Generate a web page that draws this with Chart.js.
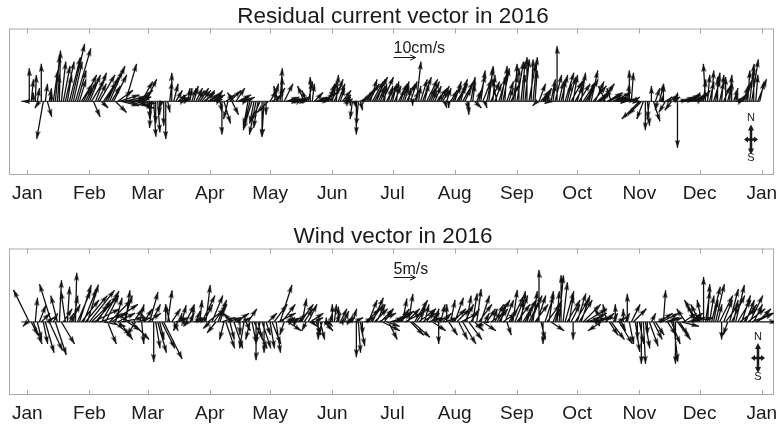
<!DOCTYPE html>
<html lang="en">
<head>
<meta charset="UTF-8">
<title>Residual current and wind vectors 2016</title>
<script src="https://cdn.jsdelivr.net/npm/chart.js@4.4.1/dist/chart.umd.min.js"></script>
<style>
  body { margin: 0; background: #fff; }
  canvas { display: block; }
</style>
</head>
<body>
<canvas id="current" width="779" height="213"></canvas>
<canvas id="wind" width="779" height="213"></canvas>
<script>
// day-of-year of each month start (2016 is a leap year) and the labels under them
const monthDays = [0, 31, 60, 91, 121, 152, 182, 213, 244, 274, 305, 335, 366];
const monthLabels = ['Jan', 'Feb', 'Mar', 'Apr', 'May', 'Jun', 'Jul', 'Aug', 'Sep', 'Oct', 'Nov', 'Dec', 'Jan'];

// daily residual current, cm/s (east, north), one row per month
const curU = [
  -2.3, 0, 1, 0, 0.5, 1, -2, 0, -3, 1, 2, 1, 0, 2, 2, 1, 0.5, 2, 3, 4, 2, 5, 6, 4, 7, 4, 3, 5, 6, 3, 4,
  5, 6, 3, 5, 4, 7, 3, 6, 8, 5, 7, 4, 6, 5, 7, 9, 8, 10, 5, 12, 9, 11, 8, 6, 4, 6, 5, 3, 5,
  1, 0, -1, 1, 0, 1, 0, -1, 0, 0, 1, 1, 0, 2, 3, 4, 5, 2, 3, -1, 1, 1, 2, 2, 3, 3, 4, 4, 5, 4, 5,
  5, 6, 4, 3, 2, 1, 0, 3, 4, -2, 5, 3, -3, 4, 6, 5, 3, 2, 4, -2, -3, -4, -2, -3, -2, -4, 0, -1, 0, -5,
  3, 5, 2, 4, -2, 1, 0, 4, 6, 5, 4, 6, 3, 5, 2, 4, 3, -3, -2, 2, 0, 1, 4, 5, 6, 4, 3, 5, 4, 3, 5,
  2, 4, 1, 3, 2, 4, 3, 2, 1, 0, -1, 1, 0, -1, 1, 2, 3, 4, 5, 3, 5, 6, 4, 3, 2, 5, 1, 3, 2, 3,
  2, 3, 1, 4, 2, 3, 2, 4, 1, 3, 0, 2, 2, 1, 3, 4, 2, 5, 3, 4, 2, 3, 5, 2, 4, 3, 1, 2, 0, 3, 4,
  3, 5, 4, 2, 5, 3, 1, 0, 2, 1, 3, 2, 3, 2, 4, 1, 3, 2, 4, 1, 3, -2, 4, 2, 3, 1, 3, 2, 4, 2, 1,
  3, 0, 2, 1, 2, 0, 3, 1, 2, 1, -2, 3, 4, 2, 3, 1, -2, 2, 1, 3, 0, 2, 3, 1, 4, 2, 3, 5, 2, 4,
  3, 5, 2, 6, 4, 5, 2, 3, 6, 4, 7, 5, 6, 3, -3, 7, 6, -2, 8, 5, 6, 4, 3, 2, 5, 1, 0, 1, 3, 2, 1,
  -8, -6, -3, 0, 1, -1, 0, 3, 2, -1, 2, 1, 0, -3, 2, 4, -3, 3, 1, 0, 4, 6, 5, 7, 5, 4, 6, 3, 5, 2,
  3, 4, 1, -1, 1, 2, 1, 3, 2, 0, 2, 1, 3, 0, 2, 1, 0, 2, 1, 3, 2, 3, 2, 3, 1, 2, 3, 0, 1, 4, 2
];
const curV = [
  0, 15, 10, 4, 12, 6, -3, 17, -17, 8, -7, 6, 4, 14, 21, 12, 23, 18, 16, 18, 12, 20, 26, 18, 24, 14, 10, 8, 12, 6, 9,
  12, 10, -7, 13, 8, 12, -3, 9, 14, 11, 16, 7, 12, -5, 5, 3, -2, 2, 17, -3, 1, -1, 2, -2, 3, 5, 9, 4, 10,
  -4, -8, -12, -16, -10, -14, -6, -3, -11, -17, -5, 9, 13, 8, 5, 3, 2, 1, 1, 3, 6, 6, 6, 7, 6, 5, 6, 5, 4, 5, 3,
  4, 3, 2, 5, 1, -5, -15, -10, 3, -8, 5, -6, 4, 6, 3, 1, 2, 1, 2, -11, -12, -13, -10, -15, -12, -9, -16, -16, -6, -5,
  5, 3, 8, 6, 7, 15, 11, 8, 2, 1, 0, 1, 1, 0, 1, 2, 1, 7, 5, 9, 11, 8, 4, 2, 1, 1, 2, 4, 6, 8, 7,
  9, 10, 12, 8, 6, 5, 3, 2, 1, -2, -8, -3, -15, -11, -4, 2, 4, 6, 8, 10, 9, 11, 10, 7, 5, 11, 8, 6, 7, 8,
  8, 7, 9, 8, 6, 9, 7, 8, 6, 9, -2, 5, 18, 7, 10, 11, 8, 10, 6, 9, 5, 7, 6, 4, 7, 5, -3, 6, -3, 5, 7,
  9, 8, 10, 7, 9, 6, -4, -6, 11, 8, -3, 5, 12, 14, 10, -3, 15, 16, 9, 12, 8, 10, 13, 11, 15, 16, 9, 6, 8, 12, 17,
  18, 15, 18, 12, 19, 20, 17, 19, 20, 14, -2, 8, 5, 3, 6, 4, -1, 10, 8, 12, 25, 9, 12, 10, 13, 8, 11, 9, 12, 7,
  10, 8, 13, 9, 6, 10, 8, 14, 7, 9, 6, 4, 8, 5, 7, 4, 3, 6, 4, 2, 1, 2, 1, 0, 1, 8, 14, 13, 2, 0, -1,
  -8, -6, -8, -13, -11, -8, 7, -9, 6, -4, 8, 3, 8, -5, 2, 3, -4, 2, 4, -21, 1, 2, 1, 3, 2, 3, 2, 4, 3, 2,
  4, 5, 10, 17, 12, 9, 14, 10, 13, 11, 9, 12, 7, 11, 8, 12, 9, 6, 4, 2, 1, 4, 7, 10, 14, 17, 19, 15, 12, 10, 9
];

// daily wind, m/s (east, north)
const windU = [
  -1, -3.6, 1.5, 2, 0.5, 1, 1.5, 2, 1, 2, 1.5, 3, -2.7, 1, 2.5, -1.5, 0.5, 3, 2, -1, 0.5, 1, 2, 1, 0.3, 3, 2.7, 4, 3, 5, 2.5,
  5.7, 4, 6, 5, 3, 6.5, 4, 5, 3, 2, 5, 6, 4, 1.5, 4, 3, 5, 2, 1, 3, -3, 4, 2, -2, 3, 1, 0.5, 2, -1,
  3, 1.9, 2, 0, 1, 2, 1, 3, 4.2, 0, 1, -1, 2, 1, 3, -1, 0.5, 1, 0, 2, -1, 1, 0.5, 2, 1, 2, 0.5, 3, 2, 1, 4,
  -1.5, 2.5, 3, -2, 2, 1, 3, -1, 2, 3, 1, -2, 2, 3, 1, 0, 2, -1, 1, 2, -1, 1, 3, 0, 1, -1, 2, 0, 1, 2,
  1, 2, 3, 1, 4, 2.7, 3, -1, 2, 3, 1, 2, 0, -1, 2, 3, 1, 2, -1, 2, 3, 1, 2, 1, 0, 1, -1, 2, 0, 1, 0.5,
  0, 0.5, 1, 0, 1.5, 0.5, 1, 2, 1, 0.5, 1, 2, 0, 0.5, 1, 0, 2, 3, 2, 3, 2.5, 3, 2, 4, 3, 4, 2, 3, 2, 3,
  4, 3, 4, 3, 2, 1, 4, 3, 1, 3, 4, 3, 2, 4, 1, 3, 1, 2, 3, 2, 3, 1, 2, 0, 1, 2, 3, 0, 2, 1, 3,
  2, 3, 2, 4, 3, 2, 1, 3, 2, 1, 2, 1, 3, 2, 3, 1, 2, -3, 3, 1, 2, 3, 2, 1, 3, 2, 1, 2, 3, 1, 2,
  3, 2, 1, 3, 2, 1, 3, 2, 1, 3, 2, 0, 1, 0, 2, 3, 1, 3, 2, 1, 0.5, 1, 0, 1, 2, 3, 1, 2, 0, 3,
  2, 3, 2, 4, 5, 3, 4, 5, 2, 3, 1, 0, -3, -2, 2, -1, 2, 3, 1, 0, 2, 3, 1, 0, 1, 0, 1, 2, 3, 1, 0,
  1, 0, 0.5, 1, 0, 2, 1, 2, 2, 2, 3, 4, 0.5, 3, 2, 3, 2, 1, 0, 3, 2, 4, 3, -2, 4, 3, 5, 2, -2, -3,
  -2, -1, 0, 1, 0.5, 1, 2, 1, 2, 1, 3, 0, 2, 3, -1, 2, 3, 1, 2, 3, 4, 2, 3, 2, 4, 3, 5, 2, 4, 3, 4
];
const windV = [
  -1, 7.3, -3, -5, 5.5, -4, 3.8, 2, -5, -7, 1, -6.5, 8.6, 2, -7.5, 6, 9.5, -5, 3, 7, 8, 2, 4, 6, 11.2, 7, 8.4, 5, 7.5, 6, 8.5,
  7.2, 4, 3, 6, 5, 2, 7, -1, 6, -5, 5, 4, -3, 5.5, 2, -4, 1, 6, 7.2, -2, 2, -4, 3, -3, 1, 4, -5, 3, 2,
  2, 6.8, 4, -9.1, -6, -7, -4, -6, -8.4, 4, 7.2, 4, 3, -2, 1, -2, 2, 3.8, 1, 4, -1, 2, 3.8, 1, 2.5, 1, 5, 6, 4, 8.4, 3,
  -1.5, 6, 4, -2.5, 5, 3, 1, -4, -6, 1, -4, 2, -6, 2, 1, -3, 1, -6, -2, 3, -4, -5, -6, -8.7, -4, -5, -6, -7, -3, 2,
  -6, -5, 4, -7, 2, 8.4, 4, -3, 1, -2, 0.5, 1, -1, 1, 2, 4, 5.3, 3, -2, 4, 2, -1, 1, -3, -4, -4, -3, -2, 1, -1, 2,
  4, 4, 2, 3.5, 3, 1, 2.5, 1, 0.5, 1.5, 3, 1, -8, -7, -5.5, -3, 1, 3, 5, 4, 5.5, 3, 4, 2, 3, -2, 3, -1, -4, 1,
  2, 1.5, 2.5, 2, 3, 5.3, 2, 3, 6.4, -3, -3.5, 5, 3, 3, 4, 2, 4, 3, 1, 2, -2, 3, 1, -5, 4, 2, 1, 4, -3, 5, 3,
  5.5, 3, -4, 2, -5, 4, 6, -4, 3, 6.5, -2, 7.5, 4, 6, -2, 2, 3, -1, 2, 3, 4, 5, 3, 4, 2, 5, -3, 3, 6, 7.3, 5,
  4, 6, 7, 5, 4, 3, 6, 5, 7, 4, 6, 11.8, -4, -5, 6, 4, 7, -2, 5, 3, 7, 10.6, 10.6, 9, 7, 5, 6, 4, -4, 5,
  6.5, 5, 6, 4, 3, 1, 2, 1, 0.5, 1, 0.5, -1, -2, 3, 2, 4, -3, -4, 2, 4, 1, -5, -2, 3, 2, 6.4, -5, 4, 3, -6.8, -4,
  -5, -9.5, -9.5, -6, -3, -5.5, 2, -4, -3, 1, 2, 2, 7.2, 1, -3, 1, -5, -9, -9.5, -4, -3, -1, 2, 3, 1, 2, 1, 2, 4, 5,
  4, 5, 10.2, 7, 8.6, 6, 8, 5, 8.6, 4, 6, -4, 5, 4, -3, 7.5, 6, 5, 8.4, 5, 3, 6, 4, 5, 3, 6, 2, 4, 2, 3, 0
];

Chart.defaults.font.family = '"Liberation Sans", Arial, sans-serif';
Chart.defaults.color = '#1a1a1a';

// narrow arrowhead sprite, pointing up; Chart.js rotates it per point
const HEAD_W = 5, HEAD_H = 8;
const headSprite = document.createElement('canvas');
headSprite.width = HEAD_W;
headSprite.height = HEAD_H;
(function () {
  const g = headSprite.getContext('2d');
  g.fillStyle = '#111';
  g.beginPath();
  g.moveTo(HEAD_W / 2, 0);
  g.lineTo(HEAD_W, HEAD_H);
  g.lineTo(HEAD_W / 2, HEAD_H - 1.5);
  g.lineTo(0, HEAD_H);
  g.closePath();
  g.fill();
})();

// frame of the axes box and the small inward month ticks
const framePlugin = {
  id: 'frame',
  beforeDatasetsDraw(chart) {
    const { ctx, chartArea: a, scales: { x } } = chart;
    ctx.save();
    ctx.strokeStyle = '#a9a9a9';
    ctx.lineWidth = 1;
    ctx.strokeRect(a.left + 0.5, a.top + 0.5, a.width - 1, a.height - 1);
    ctx.beginPath();
    monthDays.forEach(d => {
      const px = Math.round(x.getPixelForValue(d)) + 0.5;
      ctx.moveTo(px, a.top); ctx.lineTo(px, a.top + 5);
      ctx.moveTo(px, a.bottom); ctx.lineTo(px, a.bottom - 5);
    });
    ctx.stroke();
    ctx.restore();
  }
};

function openArrow(ctx, x1, y1, x2, y2, h) {
  const ang = Math.atan2(y2 - y1, x2 - x1);
  ctx.beginPath();
  ctx.moveTo(x1, y1); ctx.lineTo(x2, y2);
  ctx.moveTo(x2 - h * Math.cos(ang - 0.45), y2 - h * Math.sin(ang - 0.45));
  ctx.lineTo(x2, y2);
  ctx.lineTo(x2 - h * Math.cos(ang + 0.45), y2 - h * Math.sin(ang + 0.45));
  ctx.stroke();
}

function solidHead(ctx, x, y, ang, len, w) {
  ctx.beginPath();
  ctx.moveTo(x, y);
  ctx.lineTo(x - len * Math.cos(ang) + w * Math.sin(ang), y - len * Math.sin(ang) - w * Math.cos(ang));
  ctx.lineTo(x - len * Math.cos(ang) - w * Math.sin(ang), y - len * Math.sin(ang) + w * Math.cos(ang));
  ctx.closePath();
  ctx.fill();
}

// scale arrow with its label, and the N/S compass mark
const notesPlugin = {
  id: 'notes',
  afterDatasetsDraw(chart, args, opts) {
    const { ctx, chartArea: a, scales: { x, y } } = chart;
    const pxUnit = y.getPixelForValue(0) - y.getPixelForValue(1);
    const x0 = x.getPixelForValue(opts.refDay);
    const x1 = x0 + opts.refLen * pxUnit;
    ctx.save();
    ctx.fillStyle = '#1a1a1a';
    ctx.strokeStyle = '#1a1a1a';
    ctx.font = '16px "Liberation Sans", Arial, sans-serif';
    ctx.textAlign = 'left';
    ctx.textBaseline = 'middle';
    ctx.fillText(opts.refLabel, x0, a.top + opts.labelDy);
    ctx.lineWidth = 1;
    openArrow(ctx, x0, a.top + opts.arrowDy, x1, a.top + opts.arrowDy, 6);

    const cx = a.right - opts.compassDx;
    const cy = y.getPixelForValue(0) + opts.compassDy;
    ctx.lineWidth = 2.5;
    ctx.beginPath();
    ctx.moveTo(cx, cy - 12); ctx.lineTo(cx, cy + 12);
    ctx.moveTo(cx - 4, cy); ctx.lineTo(cx + 4, cy);
    ctx.stroke();
    solidHead(ctx, cx, cy - 15, -Math.PI / 2, 6, 3);
    solidHead(ctx, cx, cy + 15, Math.PI / 2, 6, 3);
    solidHead(ctx, cx - 7, cy, Math.PI, 4, 3);
    solidHead(ctx, cx + 7, cy, 0, 4, 3);
    ctx.font = '11px "Liberation Sans", Arial, sans-serif';
    ctx.textAlign = 'center';
    ctx.fillText('N', cx, cy - 21);
    ctx.fillText('S', cx, cy + 19);
    ctx.restore();
  }
};

const panels = [
  { id: 'current', title: 'Residual current vector in 2016', u: curU, v: curV,
    yMin: -33.3, yMax: 33, pad: { top: 0, bottom: 8 }, titlePad: { top: 6, bottom: 0 },
    notes: { refDay: 182.5, refLen: 10, refLabel: '10cm/s', labelDy: 20, arrowDy: 29, compassDx: 23, compassDy: 38 } },
  { id: 'wind', title: 'Wind vector in 2016', u: windU, v: windV,
    yMin: -16.6, yMax: 16.7, pad: { top: 6, bottom: 1 }, titlePad: { top: 7, bottom: 0 },
    notes: { refDay: 182.5, refLen: 5, refLabel: '5m/s', labelDy: 21, arrowDy: 29, compassDx: 16, compassDy: 36 } }
];

panels.forEach(p => {
  const chart = new Chart(document.getElementById(p.id), {
    type: 'scatter',
    data: {
      datasets: [
        { data: [], showLine: true, borderColor: '#111', borderWidth: 1.3, pointRadius: 0, spanGaps: false, order: 2 },
        { data: [], showLine: false, pointStyle: headSprite, pointRadius: 4, pointRotation: [], order: 1 },
        { data: [{ x: -3, y: 0 }, { x: 365, y: 0 }], showLine: true, borderColor: '#444', borderWidth: 1.2,
          pointRadius: 0, order: 3 }
      ]
    },
    options: {
      responsive: false,
      animation: false,
      events: [],
      layout: { padding: { left: 9, right: 2, top: p.pad.top, bottom: p.pad.bottom } },
      plugins: {
        legend: { display: false },
        tooltip: { enabled: false },
        title: {
          display: true,
          text: p.title,
          color: '#1a1a1a',
          font: { size: 22.5, weight: 'normal', lineHeight: 1.0 },
          padding: p.titlePad
        },
        notes: p.notes
      },
      scales: {
        x: {
          type: 'linear',
          min: -9.1,
          max: 372.1,
          afterBuildTicks: s => { s.ticks = monthDays.map(d => ({ value: d })); },
          afterFit: s => { s.paddingLeft = 0; s.paddingRight = 0; s.height = 30; },
          ticks: {
            autoSkip: false,
            maxRotation: 0,
            padding: 7,
            color: '#1a1a1a',
            font: { size: 19 },
            callback: (val, i) => monthLabels[i]
          },
          grid: { display: false, drawTicks: false },
          border: { display: false }
        },
        y: { type: 'linear', display: false, min: p.yMin, max: p.yMax }
      }
    },
    plugins: [framePlugin, notesPlugin]
  });

  // equal aspect: one unit of u spans as many pixels as one unit of v
  const xs = chart.scales.x, ys = chart.scales.y;
  const pxDay = xs.getPixelForValue(1) - xs.getPixelForValue(0);
  const pxUnit = ys.getPixelForValue(0) - ys.getPixelForValue(1);
  const k = pxUnit / pxDay;
  const stems = [], heads = [], rot = [];
  p.u.forEach((u, day) => {
    const v = p.v[day];
    stems.push({ x: day, y: 0 }, { x: day + u * k, y: v }, { x: null, y: null });
    const len = Math.hypot(u, v) * pxUnit;
    if (len === 0) { heads.push({ x: null, y: null }); rot.push(0); return; }
    const f = 1 - (HEAD_H / 2) / len;
    heads.push({ x: day + u * k * f, y: v * f });
    rot.push(Math.atan2(u, v) * 180 / Math.PI);
  });
  chart.data.datasets[0].data = stems;
  chart.data.datasets[1].data = heads;
  chart.data.datasets[1].pointRotation = rot;
  chart.update();
});
</script>
</body>
</html>
